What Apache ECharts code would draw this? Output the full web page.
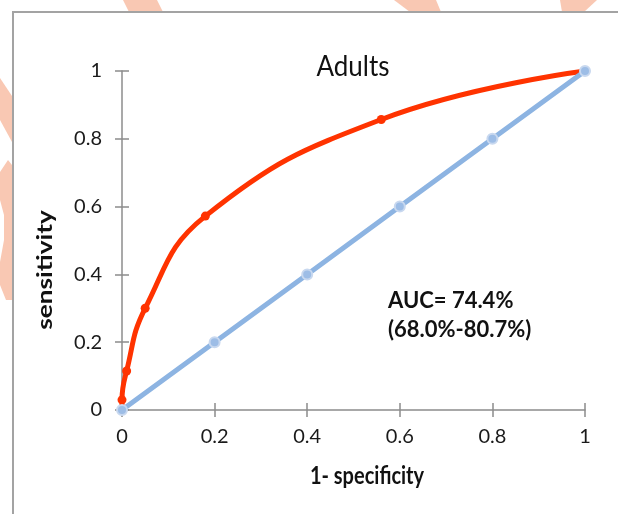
<!DOCTYPE html>
<html><head><meta charset="utf-8">
<script src="https://cdn.jsdelivr.net/npm/echarts@6/dist/echarts.min.js"></script>
<style>html,body{margin:0;padding:0;background:#fff}#c{width:618px;height:514px}</style>
</head><body><div id="c"></div>
<script>
const xTicks = [0, 0.2, 0.4, 0.6, 0.8, 1];
const yTicks = [0, 0.2, 0.4, 0.6, 0.8, 1];
const rocX = [0, 0, 0.01, 0.05, 0.18, 0.56, 1];
const rocY = [0, 0.03, 0.115, 0.30, 0.572, 0.857, 1];
const refX = [0, 0.2, 0.4, 0.6, 0.8, 1];
const refY = [0, 0.2, 0.4, 0.6, 0.8, 1];
const titleText = 'Adults';
const aucLines = ['AUC= 74.4%', '(68.0%-80.7%)'];
const xName = '1- specificity';
const yName = 'sensitivity';

const chart = echarts.init(document.getElementById('c'), null, {renderer: 'canvas'});
const font = 'Lato, "Open Sans", sans-serif';
const axisCol = '#8c8c8c';
const peach = '#f9c8b3';
function mkX(inside) {
  return {
    type: 'value', min: 0, max: 1, interval: 0.2, position: 'bottom',
    axisLine: {show: !inside, lineStyle: {color: axisCol, width: 1.5}},
    axisTick: {show: true, inside: inside, length: 7, lineStyle: {color: axisCol, width: 1.5}},
    axisLabel: {show: !inside, margin: 17, color: '#1a1a1a', fontSize: 20, fontFamily: font,
      formatter: v => String(+v.toFixed(1))},
    splitLine: {show: false}
  };
}
function mkY(inside) {
  return {
    type: 'value', min: 0, max: 1, interval: 0.2, position: 'left',
    axisLine: {show: !inside, lineStyle: {color: axisCol, width: 1.5}},
    axisTick: {show: true, inside: inside, length: 7, lineStyle: {color: axisCol, width: 1.5}},
    axisLabel: {show: !inside, margin: 20, color: '#1a1a1a', fontSize: 20, fontFamily: font,
      formatter: v => String(+v.toFixed(1))},
    splitLine: {show: false}
  };
}
chart.setOption({
  animation: false,
  backgroundColor: '#fff',
  grid: {left: 122, right: 33, top: 71, bottom: 104},
  xAxis: [mkX(false), mkX(true)],
  yAxis: [mkY(false), mkY(true)],
  graphic: [
    {type: 'polygon', z: -10, shape: {points: [[123,0],[157,0],[163,12],[129,12]]}, style: {fill: peach}},
    {type: 'polygon', z: -10, shape: {points: [[394,0],[436,0],[441,12],[410,12]]}, style: {fill: peach}},
    {type: 'polygon', z: -10, shape: {points: [[560,0],[597,0],[584,12],[562,12]]}, style: {fill: peach}},
    {type: 'polygon', z: -10, shape: {points: [[0,78],[12,96],[12,142],[0,120]]}, style: {fill: peach}},
    {type: 'polygon', z: -10, shape: {points: [[0,172],[8,160],[12,165],[12,300],[6,300],[0,285],[0,262],[4,240],[4,215],[0,200]]}, style: {fill: peach}},
    {type: 'rect', z: -5, shape: {x: 13, y: 12, width: 640, height: 560}, style: {fill: '#fff', stroke: '#a3a3a3', lineWidth: 2}},
    {type: 'text', x: 353, y: 67, scaleY: 1.1, style: {text: titleText, x: 0, y: 0, textAlign: 'center', textVerticalAlign: 'middle', font: '26px ' + font, fill: '#111'}},
    {type: 'text', x: 388, y: 301, style: {text: aucLines[0], x: 0, y: 0, textVerticalAlign: 'middle', font: 'bold 22px ' + font, fill: '#111'}},
    {type: 'text', x: 388, y: 330, style: {text: aucLines[1], x: 0, y: 0, textVerticalAlign: 'middle', font: 'bold 22px ' + font, fill: '#111'}},
    {type: 'text', x: 367, y: 476, scaleY: 1.2, style: {text: xName, x: 0, y: 0, textAlign: 'center', textVerticalAlign: 'middle', font: 'bold 20px ' + font, fill: '#111'}},
    {type: 'text', rotation: Math.PI / 2, x: 45, y: 270, scaleX: 1.25, style: {text: yName, x: 0, y: 0, textAlign: 'center', textVerticalAlign: 'middle', font: 'bold 21px ' + font, fill: '#111'}}
  ],
  series: [
    {
      type: 'line', xAxisIndex: 0, yAxisIndex: 0, z: 3,
      data: refX.map((x, i) => [x, refY[i]]),
      lineStyle: {color: '#8db4e2', width: 5},
      symbol: 'circle', symbolSize: 10,
      itemStyle: {color: '#9dbde6', borderColor: '#c8d8ef', borderWidth: 2}
    },
    {
      type: 'line', xAxisIndex: 0, yAxisIndex: 0, z: 2, smooth: 0.45,
      data: rocX.map((x, i) => [x, rocY[i]]),
      lineStyle: {color: '#ff3300', width: 5},
      symbol: 'circle', symbolSize: 9,
      itemStyle: {color: '#ff3300'}
    }
  ]
});
</script></body></html>
